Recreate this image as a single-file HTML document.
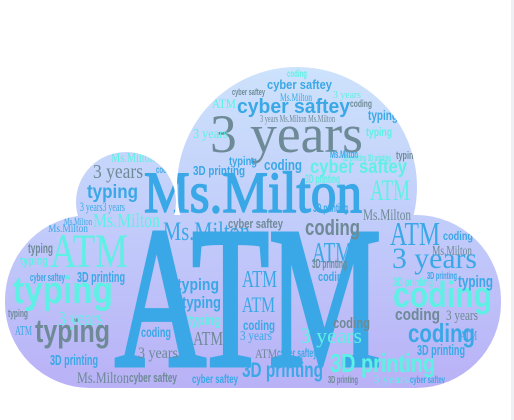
<!DOCTYPE html>
<html><head><meta charset="utf-8">
<style>
html,body{margin:0;padding:0;background:#fff;width:514px;height:420px;overflow:hidden}
svg{display:block}
.s{font-family:"Liberation Serif",serif}
.b{font-family:"Liberation Sans",sans-serif;font-weight:bold}
</style></head>
<body>
<svg width="514" height="420" viewBox="0 0 514 420">
<defs>
<linearGradient id="g" x1="0" y1="0" x2="0" y2="1">
<stop offset="0" stop-color="#d2ebfb"/>
<stop offset="0.45" stop-color="#c4d2fb"/>
<stop offset="1" stop-color="#b7acf6"/>
</linearGradient>
<clipPath id="cl">
<circle cx="297" cy="187" r="120"/>
<circle cx="126" cy="202" r="50"/>
<rect x="5" y="215" width="496" height="173" rx="85" ry="85"/>
</clipPath>
</defs>
<rect x="511" y="0" width="3" height="420" fill="#eef0f3"/>
<g clip-path="url(#cl)">
<rect x="0" y="0" width="514" height="420" fill="url(#g)"/>
<g>
<text class="s" x="115" y="365" font-size="200" textLength="266" lengthAdjust="spacingAndGlyphs" fill="#3aa8e6" stroke="#3aa8e6" stroke-width="5">ATM</text>
<text class="s" x="144" y="212" font-size="58" textLength="218" lengthAdjust="spacingAndGlyphs" fill="#3aa8e6" stroke="#3aa8e6" stroke-width="1.5">Ms.Milton</text>
<text class="s" x="210" y="152" font-size="54" textLength="153" lengthAdjust="spacingAndGlyphs" fill="#6e8a96">3 years</text>
<text class="b" x="237" y="113" font-size="20" textLength="113" lengthAdjust="spacingAndGlyphs" fill="#3aa8e6">cyber saftey</text>
<text class="b" x="310" y="173" font-size="19" textLength="97" lengthAdjust="spacingAndGlyphs" fill="#5ef0e4">cyber saftey</text>
<text class="b" x="13" y="303" font-size="38" textLength="100" lengthAdjust="spacingAndGlyphs" fill="#5ef0e4">typing</text>
<text class="s" x="50" y="267" font-size="48" textLength="78" lengthAdjust="spacingAndGlyphs" fill="#5ef0e4">ATM</text>
<text class="b" x="35" y="342" font-size="32" textLength="75" lengthAdjust="spacingAndGlyphs" fill="#6e8a96">typing</text>
<text class="b" x="393" y="307" font-size="36" textLength="99" lengthAdjust="spacingAndGlyphs" fill="#5ef0e4">coding</text>
<text class="b" x="408" y="342" font-size="26" textLength="67" lengthAdjust="spacingAndGlyphs" fill="#3aa8e6">coding</text>
<text class="b" x="330" y="372" font-size="26" textLength="105" lengthAdjust="spacingAndGlyphs" fill="#5ef0e4">3D printing</text>
<text class="b" x="242" y="377" font-size="21" textLength="81" lengthAdjust="spacingAndGlyphs" fill="#3aa8e6">3D printing</text>
<text class="b" x="305" y="235" font-size="22" textLength="55" lengthAdjust="spacingAndGlyphs" fill="#6e8a96">coding</text>
<text class="s" x="390" y="245" font-size="34" textLength="50" lengthAdjust="spacingAndGlyphs" fill="#3aa8e6">ATM</text>
<text class="s" x="392" y="268" font-size="30" textLength="85" lengthAdjust="spacingAndGlyphs" fill="#3aa8e6">3 years</text>
<text class="s" x="370" y="200" font-size="30" textLength="40" lengthAdjust="spacingAndGlyphs" fill="#5ef0e4">ATM</text>
<text class="s" x="163" y="240" font-size="26" textLength="87" lengthAdjust="spacingAndGlyphs" fill="#3aa8e6">Ms.Milton</text>
<text class="s" x="93" y="227" font-size="20" textLength="67" lengthAdjust="spacingAndGlyphs" fill="#5ef0e4">Ms.Milton</text>
<text class="b" x="87" y="198" font-size="19" textLength="51" lengthAdjust="spacingAndGlyphs" fill="#3aa8e6">typing</text>
<text class="s" x="93" y="178" font-size="20" textLength="50" lengthAdjust="spacingAndGlyphs" fill="#6e8a96">3 years</text>
<text class="s" x="80" y="211" font-size="13" textLength="45" lengthAdjust="spacingAndGlyphs" fill="#3aa8e6">3 years3 years</text>
<text class="s" x="48" y="232" font-size="12" textLength="40" lengthAdjust="spacingAndGlyphs" fill="#3aa8e6">Ms.Milton</text>
<text class="s" x="64" y="225" font-size="10" textLength="28" lengthAdjust="spacingAndGlyphs" fill="#3aa8e6">Ms.Milton</text>
<text class="b" x="177" y="290" font-size="17" textLength="42" lengthAdjust="spacingAndGlyphs" fill="#3aa8e6">typing</text>
<text class="b" x="182" y="308" font-size="17" textLength="39" lengthAdjust="spacingAndGlyphs" fill="#3aa8e6">typing</text>
<text class="b" x="188" y="325" font-size="15" textLength="33" lengthAdjust="spacingAndGlyphs" fill="#5ef0e4">typing</text>
<text class="b" x="395" y="320" font-size="17" textLength="45" lengthAdjust="spacingAndGlyphs" fill="#6e8a96">coding</text>
<text class="b" x="333" y="328" font-size="15" textLength="37" lengthAdjust="spacingAndGlyphs" fill="#6e8a96">coding</text>
<text class="s" x="300" y="343" font-size="22" textLength="62" lengthAdjust="spacingAndGlyphs" fill="#5ef0e4">3 years</text>
<text class="b" x="193" y="175" font-size="13" textLength="52" lengthAdjust="spacingAndGlyphs" fill="#3aa8e6">3D printing</text>
<text class="s" x="193" y="345" font-size="20" textLength="30" lengthAdjust="spacingAndGlyphs" fill="#6e8a96">ATM</text>
<text class="s" x="312" y="262" font-size="28" textLength="40" lengthAdjust="spacingAndGlyphs" fill="#3aa8e6">ATM</text>
<text class="s" x="242" y="287" font-size="24" textLength="35" lengthAdjust="spacingAndGlyphs" fill="#3aa8e6">ATM</text>
<text class="s" x="242" y="312" font-size="22" textLength="33" lengthAdjust="spacingAndGlyphs" fill="#3aa8e6">ATM</text>
<text class="b" x="243" y="330" font-size="14" textLength="32" lengthAdjust="spacingAndGlyphs" fill="#3aa8e6">coding</text>
<text class="s" x="240" y="340" font-size="14" textLength="32" lengthAdjust="spacingAndGlyphs" fill="#3aa8e6">3 years</text>
<text class="b" x="229" y="165" font-size="12" textLength="28" lengthAdjust="spacingAndGlyphs" fill="#3aa8e6">typing</text>
<text class="b" x="264" y="170" font-size="15" textLength="38" lengthAdjust="spacingAndGlyphs" fill="#3aa8e6">coding</text>
<text class="b" x="368" y="120" font-size="14" textLength="30" lengthAdjust="spacingAndGlyphs" fill="#3aa8e6">typing</text>
<text class="b" x="366" y="136" font-size="12" textLength="26" lengthAdjust="spacingAndGlyphs" fill="#5ef0e4">typing</text>
<text class="s" x="212" y="108" font-size="13" textLength="24" lengthAdjust="spacingAndGlyphs" fill="#5ef0e4">ATM</text>
<text class="s" x="193" y="138" font-size="14" textLength="35" lengthAdjust="spacingAndGlyphs" fill="#5ef0e4">3 years</text>
<text class="s" x="260" y="122" font-size="11" textLength="75" lengthAdjust="spacingAndGlyphs" fill="#6e8a96">3 years Ms.Milton Ms.Milton</text>
<text class="b" x="305" y="183" font-size="12" textLength="35" lengthAdjust="spacingAndGlyphs" fill="#5ef0e4">3D printing</text>
<text class="b" x="228" y="228" font-size="13" textLength="55" lengthAdjust="spacingAndGlyphs" fill="#6e8a96">cyber saftey</text>
<text class="s" x="363" y="220" font-size="16" textLength="48" lengthAdjust="spacingAndGlyphs" fill="#6e8a96">Ms.Milton</text>
<text class="s" x="432" y="255" font-size="14" textLength="40" lengthAdjust="spacingAndGlyphs" fill="#6e8a96">Ms.Milton</text>
<text class="b" x="443" y="240" font-size="12" textLength="30" lengthAdjust="spacingAndGlyphs" fill="#3aa8e6">coding</text>
<text class="b" x="458" y="287" font-size="17" textLength="35" lengthAdjust="spacingAndGlyphs" fill="#3aa8e6">typing</text>
<text class="b" x="427" y="279" font-size="10" textLength="30" lengthAdjust="spacingAndGlyphs" fill="#3aa8e6">3D printing</text>
<text class="b" x="393" y="286" font-size="12" textLength="40" lengthAdjust="spacingAndGlyphs" fill="#5ef0e4">3D printing</text>
<text class="b" x="417" y="355" font-size="15" textLength="48" lengthAdjust="spacingAndGlyphs" fill="#3aa8e6">3D printing</text>
<text class="s" x="446" y="320" font-size="15" textLength="32" lengthAdjust="spacingAndGlyphs" fill="#6e8a96">3 years</text>
<text class="b" x="313" y="212" font-size="12" textLength="35" lengthAdjust="spacingAndGlyphs" fill="#3aa8e6">3D printing</text>
<text class="b" x="312" y="268" font-size="13" textLength="35" lengthAdjust="spacingAndGlyphs" fill="#6e8a96">3D printing</text>
<text class="b" x="318" y="281" font-size="13" textLength="30" lengthAdjust="spacingAndGlyphs" fill="#3aa8e6">coding</text>
<text class="b" x="77" y="282" font-size="15" textLength="48" lengthAdjust="spacingAndGlyphs" fill="#3aa8e6">3D printing</text>
<text class="b" x="30" y="281" font-size="11" textLength="35" lengthAdjust="spacingAndGlyphs" fill="#3aa8e6">cyber saftey</text>
<text class="b" x="28" y="253" font-size="14" textLength="25" lengthAdjust="spacingAndGlyphs" fill="#6e8a96">typing</text>
<text class="b" x="20" y="265" font-size="13" textLength="28" lengthAdjust="spacingAndGlyphs" fill="#5ef0e4">typing</text>
<text class="s" x="58" y="325" font-size="20" textLength="45" lengthAdjust="spacingAndGlyphs" fill="#5ef0e4">3 years</text>
<text class="b" x="50" y="365" font-size="15" textLength="48" lengthAdjust="spacingAndGlyphs" fill="#3aa8e6">3D printing</text>
<text class="s" x="77" y="383" font-size="16" textLength="52" lengthAdjust="spacingAndGlyphs" fill="#6e8a96">Ms.Milton</text>
<text class="b" x="129" y="382" font-size="13" textLength="48" lengthAdjust="spacingAndGlyphs" fill="#6e8a96">cyber saftey</text>
<text class="b" x="192" y="383" font-size="12" textLength="46" lengthAdjust="spacingAndGlyphs" fill="#3aa8e6">cyber saftey</text>
<text class="s" x="138" y="358" font-size="16" textLength="40" lengthAdjust="spacingAndGlyphs" fill="#6e8a96">3 years</text>
<text class="b" x="141" y="337" font-size="14" textLength="30" lengthAdjust="spacingAndGlyphs" fill="#3aa8e6">coding</text>
<text class="b" x="277" y="357" font-size="12" textLength="40" lengthAdjust="spacingAndGlyphs" fill="#3aa8e6">cyber saftey</text>
<text class="s" x="255" y="358" font-size="13" textLength="22" lengthAdjust="spacingAndGlyphs" fill="#6e8a96">ATM</text>
<text class="s" x="373" y="383" font-size="12" textLength="36" lengthAdjust="spacingAndGlyphs" fill="#5ef0e4">3 years</text>
<text class="b" x="410" y="383" font-size="10" textLength="35" lengthAdjust="spacingAndGlyphs" fill="#3aa8e6">cyber saftey</text>
<text class="b" x="328" y="383" font-size="10" textLength="30" lengthAdjust="spacingAndGlyphs" fill="#6e8a96">3D printing</text>
<text class="s" x="460" y="340" font-size="14" textLength="17" lengthAdjust="spacingAndGlyphs" fill="#3aa8e6">ATM</text>
<text class="s" x="15" y="335" font-size="14" textLength="17" lengthAdjust="spacingAndGlyphs" fill="#3aa8e6">ATM</text>
<text class="b" x="8" y="317" font-size="11" textLength="20" lengthAdjust="spacingAndGlyphs" fill="#6e8a96">typing</text>
<text class="s" x="111" y="162" font-size="14" textLength="44" lengthAdjust="spacingAndGlyphs" fill="#5ef0e4">Ms.Milton</text>
<text class="b" x="156" y="173" font-size="10" textLength="20" lengthAdjust="spacingAndGlyphs" fill="#3aa8e6">coding</text>
<text class="s" x="280" y="101" font-size="12" textLength="32" lengthAdjust="spacingAndGlyphs" fill="#3aa8e6">Ms.Milton</text>
<text class="b" x="267" y="89" font-size="13" textLength="65" lengthAdjust="spacingAndGlyphs" fill="#3aa8e6">cyber saftey</text>
<text class="b" x="287" y="77" font-size="10" textLength="20" lengthAdjust="spacingAndGlyphs" fill="#5ef0e4">coding</text>
<text class="b" x="232" y="95" font-size="9" textLength="33" lengthAdjust="spacingAndGlyphs" fill="#6e8a96">cyber saftey</text>
<text class="s" x="333" y="98" font-size="11" textLength="28" lengthAdjust="spacingAndGlyphs" fill="#5ef0e4">3 years</text>
<text class="b" x="350" y="107" font-size="10" textLength="22" lengthAdjust="spacingAndGlyphs" fill="#6e8a96">coding</text>
<text class="b" x="343" y="161" font-size="9" textLength="48" lengthAdjust="spacingAndGlyphs" fill="#5ef0e4">3D printing 3D printing</text>
<text class="b" x="330" y="158" font-size="11" textLength="28" lengthAdjust="spacingAndGlyphs" fill="#3aa8e6">Ms.Milton</text>
<text class="b" x="396" y="159" font-size="11" textLength="22" lengthAdjust="spacingAndGlyphs" fill="#6e8a96">typing</text>
</g>
</g>
</svg>
</body></html>
